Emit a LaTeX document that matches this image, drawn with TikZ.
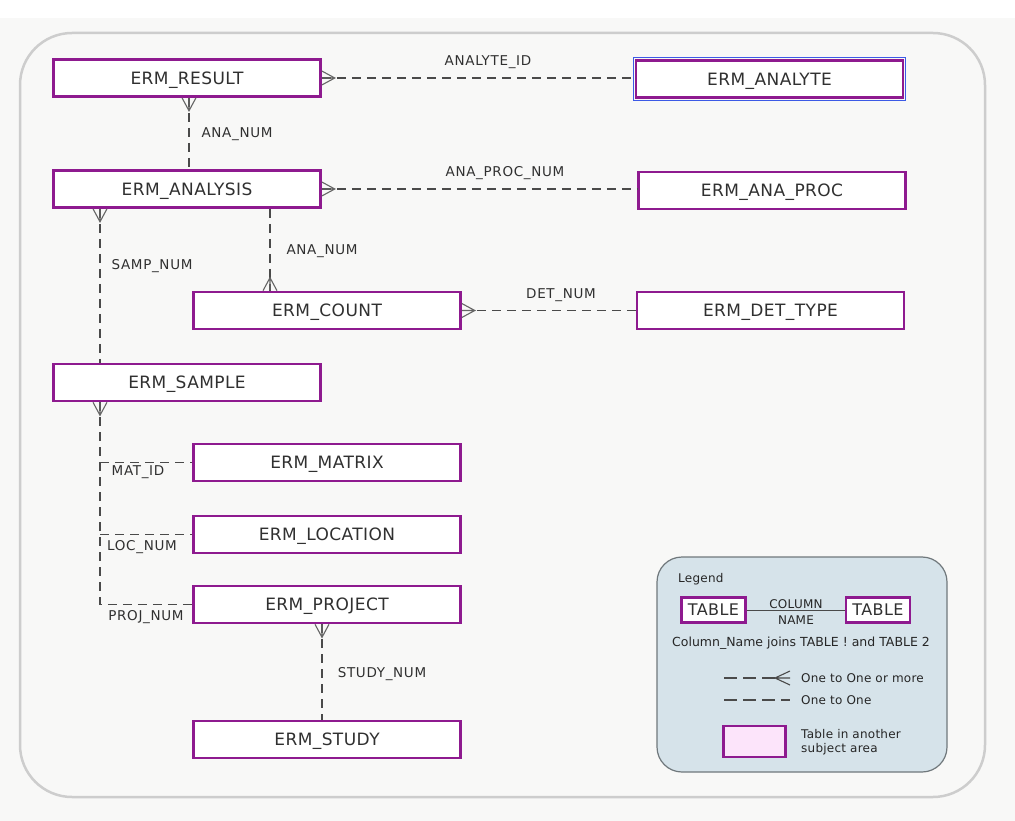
\documentclass[tikz,border=0pt]{standalone}
\usepackage{fontspec}
\setmainfont{DejaVu Sans}
\newfontfamily\ermfont[LetterSpace=2.5]{DejaVu Sans}
\newfontfamily\lblfont[LetterSpace=5]{DejaVu Sans}
\newfontfamily\lgfont[LetterSpace=2]{DejaVu Sans}
\definecolor{ermpurple}{HTML}{8E1A8F}
\definecolor{ermtext}{HTML}{303030}
\definecolor{ermline}{HTML}{4A4A4A}
\definecolor{framegray}{HTML}{CDCDCD}
\definecolor{pagebg}{HTML}{F8F8F7}
\definecolor{legendbg}{HTML}{D6E3EA}
\definecolor{legendedge}{HTML}{70787C}
\definecolor{legendpink}{HTML}{FCE4FA}
\definecolor{analyteblue}{HTML}{3C5AE6}
% crow's foot ends: prongs open towards the table at point #1
\newcommand\crowR[1]{\coordinate (cf) at (#1);
  \draw[crowline] ([yshift=7pt]cf) -- ++(13,7) -- ++(-13,7) (cf) -- ++(13,0);}
\newcommand\crowD[1]{\coordinate (cf) at (#1);
  \draw[crowline] ([xshift=-7pt]cf) -- ++(7,13) -- ++(7,-13) (cf) -- ++(0,13);}
\newcommand\crowU[1]{\coordinate (cf) at (#1);
  \draw[crowline] ([xshift=-7pt]cf) -- ++(7,-13) -- ++(7,13) (cf) -- ++(0,-13);}
\begin{document}
\begin{tikzpicture}[x=1pt,y=-1pt,
  tbl/.style={draw=ermpurple, line width=2.6pt, fill=white, minimum width=267pt,
    minimum height=37pt, inner sep=0pt, text=ermtext, text height=12.4pt, text depth=0pt,
    font=\ermfont\fontsize{17}{20}\selectfont},
  rel/.style={draw=ermline, line width=1.3pt, dash pattern=on 9pt off 6pt},
  crowline/.style={draw=ermline!85, line width=1.1pt},
  lbl/.style={text=ermtext, font=\lblfont\fontsize{13.5}{16}\selectfont, inner sep=0pt,
    text height=9.8pt, text depth=0pt},
  lgtext/.style={text=black!85, font=\lgfont\fontsize{12}{14.5}\selectfont, inner sep=0pt},
  lgtbl/.style={draw=ermpurple, line width=2.4pt, fill=white, minimum width=64pt,
    minimum height=25pt, inner sep=0pt, text=ermtext, text height=11.6pt, text depth=0pt,
    font=\ermfont\fontsize{16}{18}\selectfont},
]
\useasboundingbox (0,0) rectangle (1015,821);
\fill[pagebg] (0,18) rectangle (1015,821);
\draw[framegray, line width=2.5pt, rounded corners=52pt, fill=pagebg] (20,33) rectangle (985,797);

% tables
\node[tbl] (res)      at (187,78)    {ERM\_RESULT};
\node[tbl] (analyte)  at (769.5,79)  {ERM\_ANALYTE};
\draw[analyteblue, line width=0.8pt]
  ([xshift=-1.4pt,yshift=1.4pt]analyte.north west) rectangle ([xshift=1.4pt,yshift=-1.4pt]analyte.south east);
\node[tbl] (analysis) at (187,189)   {ERM\_ANALYSIS};
\node[tbl] (anaproc)  at (772,190.5) {ERM\_ANA\_PROC};
\node[tbl] (count)    at (327,310.5) {ERM\_COUNT};
\node[tbl] (dettype)  at (770.5,310.5) {ERM\_DET\_TYPE};
\node[tbl] (sample)   at (187,382.5) {ERM\_SAMPLE};
\node[tbl] (matrix)   at (327,462.5) {ERM\_MATRIX};
\node[tbl] (location) at (327,534.5) {ERM\_LOCATION};
\node[tbl] (project)  at (327,604.5) {ERM\_PROJECT};
\node[tbl] (study)    at (327,739.5) {ERM\_STUDY};

% vertical connector columns
\coordinate (c1) at (100,0);
\coordinate (c2) at (189,0);
\coordinate (c3) at (270,0);
\coordinate (c4) at (322,0);

% relationships
\draw[rel] (res.east) -- (res.east -| analyte.west);
\crowR{res.east}
\node[lbl] (l1) at (488,61) {ANALYTE\_ID};

\draw[rel] (c2 |- res.south) -- (c2 |- analysis.north);
\crowD{c2 |- res.south}
\node[lbl] (l2) at (237,133) {ANA\_NUM};

\draw[rel] (analysis.east) -- (analysis.east -| anaproc.west);
\crowR{analysis.east}
\node[lbl] (l3) at (505,172) {ANA\_PROC\_NUM};

\draw[rel] (c1 |- analysis.south) -- (c1 |- sample.north);
\crowD{c1 |- analysis.south}
\node[lbl] (l4) at (152,265) {SAMP\_NUM};

\draw[rel] (c3 |- analysis.south) -- (c3 |- count.north);
\crowU{c3 |- count.north}
\node[lbl] (l5) at (322,250) {ANA\_NUM};

\draw[rel] (count.east) -- (dettype.west);
\crowR{count.east}
\node[lbl] (l6) at (561,294) {DET\_NUM};

\draw[rel] (c1 |- sample.south) -- (c1 |- project.west) -- (project.west);
\draw[rel] (c1 |- matrix.west) -- (matrix.west);
\draw[rel] (c1 |- location.west) -- (location.west);
\crowD{c1 |- sample.south}
\node[lbl] (l7) at (138,471) {MAT\_ID};
\node[lbl] (l8) at (142,546) {LOC\_NUM};
\node[lbl] (l9) at (146,616) {PROJ\_NUM};

\draw[rel] (c4 |- project.south) -- (c4 |- study.north);
\crowD{c4 |- project.south}
\node[lbl] (l10) at (382,673) {STUDY\_NUM};

% legend
\draw[legendedge, line width=1.2pt, fill=legendbg, rounded corners=25pt] (657,557) rectangle (947,772);
\node[lgtext, anchor=west] (lgtitle) at (678,579) {Legend};
\node[lgtbl] (lt1) at (713.5,610) {TABLE};
\node[lgtbl] (lt2) at (878,610) {TABLE};
\draw[ermline, line width=1pt] (lt1.east) -- (lt2.west);
\node[lgtext] (lcol) at (796,604) {COLUMN};
\node[lgtext] (lname) at (796,620) {NAME};
\node[lgtext, font=\fontsize{12.5}{15}\selectfont] (ljoin) at (801,643) {Column\_Name joins TABLE ! and TABLE 2};

\coordinate (m1) at (724,678);
\coordinate (m2) at (775,678);
\draw[ermline, line width=1.2pt, dash pattern=on 13pt off 6pt] (m1) -- (m2);
\draw[ermline, line width=1.1pt] (m2) -- ++(15,-7) (m2) -- ++(15,0) (m2) -- ++(15,7);
\node[lgtext, anchor=west] (lmany) at (801,678) {One to One or more};

\coordinate (o1) at (724,700);
\coordinate (o2) at (790,700);
\draw[ermline, line width=1.2pt, dash pattern=on 13pt off 6pt] (o1) -- (o2);
\node[lgtext, anchor=west] (lone) at (801,700) {One to One};

\node[draw=ermpurple, line width=2.4pt, fill=legendpink, minimum width=62pt, minimum height=31pt] (lpink) at (754.5,741.5) {};
\node[lgtext, anchor=west, align=left] (lother) at (801,742) {Table in another\\subject area};
\end{tikzpicture}
\end{document}
